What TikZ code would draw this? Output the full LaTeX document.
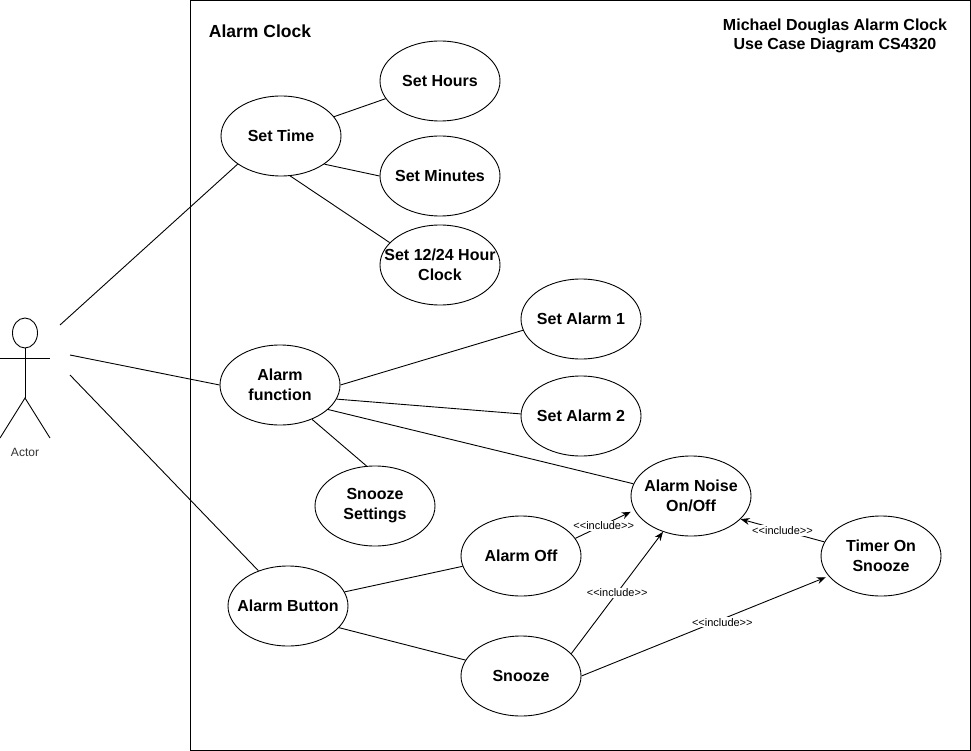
\documentclass[tikz,border=0pt]{standalone}
\usepackage{fontspec}
\setmainfont{Liberation Sans}
\usetikzlibrary{shapes.geometric,arrows.meta}
\tikzset{
  usecase/.style={shape=ellipse,draw,minimum width=120pt,minimum height=80pt,inner sep=-20pt,align=center,font=\fontsize{16}{20}\selectfont\bfseries},
  title/.style={align=center,font=\fontsize{16}{19}\selectfont\bfseries},
  include/.style={-{Stealth[length=9pt,width=7pt]}},
  tag/.style={fill=white,inner sep=1pt,font=\fontsize{11}{12}\selectfont}
}
\begin{document}
\begin{tikzpicture}
[x=1pt,y=-1pt,line width=0.9pt]
\useasboundingbox (0,0) rectangle (971,751);
\node[draw,minimum width=780pt,minimum height=750pt,inner sep=0pt] (system) at (580.5,375.5) {};
\node[title,font=\fontsize{17.5}{20}\selectfont\bfseries] (systemname) at (260,31) {Alarm Clock};
\node[title] (note) at (835,36) {Michael Douglas Alarm Clock\\Use Case Diagram CS4320};
% actor
\node[shape=ellipse,draw,minimum width=25pt,minimum height=30pt,inner sep=0pt] (head) at (25,333) {};
\coordinate (armL) at (0,358);
\coordinate (armR) at (50,358);
\coordinate (hip) at (25,398);
\coordinate (footL) at (0,438);
\coordinate (footR) at (50,438);
\draw (head.south) -- (hip);
\draw (armL) -- (armR);
\draw (footL) -- (hip) -- (footR);
\node[font=\fontsize{12}{14}\selectfont,text=black!80] (actor) at (25,452.5) {Actor};
\coordinate (actorA) at (60,325);
\coordinate (actorB) at (70,355);
\coordinate (actorC) at (70,375);
% use cases
\node[usecase] (time) at (281,136) {Set Time};
\node[usecase] (hours) at (440,81) {Set Hours};
\node[usecase] (minutes) at (440,176) {Set Minutes};
\node[usecase] (clock) at (440,265) {Set 12/24 Hour\\Clock};
\node[usecase] (function) at (280,385) {Alarm\\function};
\node[usecase] (alarmA) at (581,319) {Set Alarm 1};
\node[usecase] (alarmB) at (581,416) {Set Alarm 2};
\node[usecase] (settings) at (375,506) {Snooze\\Settings};
\node[usecase] (noise) at (691,496) {Alarm Noise\\On/Off};
\node[usecase] (off) at (521,556) {Alarm Off};
\node[usecase] (timer) at (881,556) {Timer On\\Snooze};
\node[usecase] (button) at (288,606) {Alarm Button};
\node[usecase] (snooze) at (521,676) {Snooze};
% associations
\draw (actorA) -- (time.-147);
\draw (actorB) -- (function.west);
\draw (actorC) -- (button.130);
\draw (time.20) -- (hours.198);
\draw (time.-33) -- (minutes.west);
\draw (time.-77) -- (clock.156);
\draw (function.east) -- (alarmA.191);
\draw (function.-14) -- (alarmB.178);
\draw (function.-27) -- (noise.168);
\draw (function.-47) -- (settings.102);
\draw (button.14) -- (off.190);
\draw (button.-23) -- (snooze.164);
% includes
\draw[include,shorten >=4pt] (off.18) -- node[tag,pos=0.48,yshift=-1pt] (tagA) {<{}<include>{}>} (noise.194);
\draw[include] (snooze.24) -- node[tag,pos=0.5] (tagB) {<{}<include>{}>} (noise.232);
\draw[include,shorten >=3pt] (snooze.east) -- node[tag,pos=0.57,yshift=-3pt] (tagC) {<{}<include>{}>} (timer.201);
\draw[include] (timer.166) -- node[tag,pos=0.5] (tagD) {<{}<include>{}>} (noise.-25);
\end{tikzpicture}
\end{document}
